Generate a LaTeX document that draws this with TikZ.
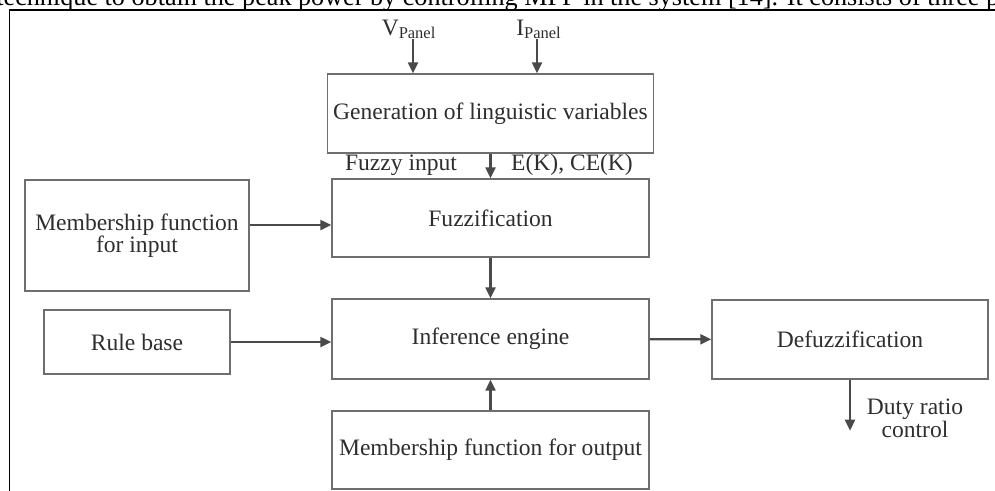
\documentclass[tikz,border=0pt]{standalone}
\usepackage{fontspec}
\setmainfont{Liberation Serif}
\usetikzlibrary{arrows.meta,positioning}
\definecolor{boxgray}{HTML}{6E6E6E}
\definecolor{arrgray}{HTML}{4A4A4A}
\definecolor{txtgray}{HTML}{2E2E2E}
\tikzset{
  blk/.style={draw=boxgray,line width=0.8pt,minimum width=6.34cm,minimum height=1.58cm,align=center,text=txtgray,font=\fontsize{13.4}{12.5}\selectfont},
  arr/.style={draw=arrgray,line width=1.3pt,-{Triangle[length=0.22cm,width=0.2cm]}},
  lbl/.style={text=txtgray,font=\fontsize{13.4}{13.2}\selectfont,inner sep=0pt,align=center}
}
\begin{document}
\begin{tikzpicture}
\useasboundingbox (0,0) rectangle (19.9,-9.8);
% page text cut off at the top
\begin{scope}
\clip (0,0) rectangle (19.9,-9.8);
\node[anchor=base west,inner sep=0pt,font=\fontsize{14.9}{16}\selectfont] (para) at (-0.08,-0.10) {technique to obtain the peak power by controlling MPP in the system [14]. It consists of three p};
\end{scope}
\draw[line width=1.1pt] (0.19,-9.9) -- (0.19,-0.2) -- (19.95,-0.2);
% blocks
\node[blk] (gen) at (9.81,-2.27) {Generation of linguistic variables};
\node[blk,minimum height=1.56cm] (fuzz) at (9.81,-4.36) {Fuzzification};
\node[blk,minimum height=1.6cm] (inf) at (9.81,-6.78) {Inference engine};
\node[blk,minimum height=1.56cm] (mfout) at (9.81,-9.0) {Membership function for output};
\node[blk,minimum width=4.48cm,minimum height=2.22cm] (mfin) at (2.74,-4.71) {Membership function\\for input};
\node[blk,minimum width=3.72cm,minimum height=1.28cm] (rule) at (2.74,-6.84) {Rule base};
\node[blk,minimum width=5.52cm] (defuzz) at (17.0,-6.79) {Defuzzification};
% labels
\node[lbl,anchor=base] (vp) at (8.18,-0.70) {V\textsubscript{Panel}};
\node[lbl,anchor=base] (ip) at (10.78,-0.70) {I\textsubscript{Panel}};
\node[lbl,anchor=base] (fzin) at (8.02,-3.4) {Fuzzy input};
\node[lbl,anchor=base] (ek) at (11.44,-3.4) {E(K), CE(K)};
\node[lbl] (duty) at (18.3,-8.36) {Duty ratio\\control};
% arrows
\coordinate (vpin) at (8.26,-0.78);
\coordinate (ipin) at (10.74,-0.78);
\coordinate (mfo) at ([yshift=0.21cm]mfin.east);
\coordinate (dout) at ([yshift=-1.02cm]defuzz.south);
\draw[arr] (vpin) -- (vpin |- gen.north);
\draw[arr] (ipin) -- (ipin |- gen.north);
\draw[arr] (gen) -- (fuzz);
\draw[arr] (mfo) -- (mfo -| fuzz.west);
\draw[arr] (fuzz) -- (inf);
\draw[arr] (rule.east) -- (rule.east -| inf.west);
\draw[arr] (mfout) -- (inf);
\draw[arr] (inf) -- (defuzz);
\draw[arr] (defuzz.south) -- (dout);
\end{tikzpicture}
\end{document}
